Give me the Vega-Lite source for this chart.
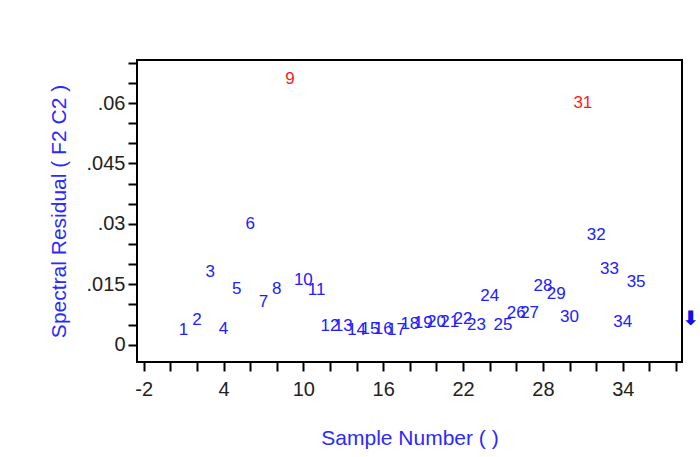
{
  "$schema": "https://vega.github.io/schema/vega-lite/v6.json",
  "width": 545,
  "height": 302,
  "autosize": "none",
  "padding": {"left": 137, "top": 60, "right": 18, "bottom": 95},
  "background": "white",
  "config": {
    "view": {"stroke": "black", "strokeWidth": 2},
    "axis": {
      "grid": false,
      "domain": false,
      "tickColor": "black",
      "tickWidth": 2,
      "tickSize": 9,
      "labelFont": "Liberation Sans",
      "labelFontSize": 20,
      "labelColor": "#222222",
      "titleFont": "Liberation Sans",
      "titleFontSize": 21,
      "titleFontWeight": "normal",
      "titleColor": "#2a2aff"
    }
  },
  "data": {
    "values": [
      {"sample": 1, "residual": 0.00356, "label": "1", "group": "normal"},
      {"sample": 2, "residual": 0.00622, "label": "2", "group": "normal"},
      {"sample": 3, "residual": 0.01805, "label": "3", "group": "normal"},
      {"sample": 4, "residual": 0.00398, "label": "4", "group": "normal"},
      {"sample": 5, "residual": 0.01392, "label": "5", "group": "normal"},
      {"sample": 6, "residual": 0.03008, "label": "6", "group": "normal"},
      {"sample": 7, "residual": 0.01059, "label": "7", "group": "normal"},
      {"sample": 8, "residual": 0.01392, "label": "8", "group": "normal"},
      {"sample": 9, "residual": 0.06589, "label": "9", "group": "outlier"},
      {"sample": 10, "residual": 0.01616, "label": "10", "group": "normal"},
      {"sample": 11, "residual": 0.0135, "label": "11", "group": "normal"},
      {"sample": 12, "residual": 0.00455, "label": "12", "group": "normal"},
      {"sample": 13, "residual": 0.00455, "label": "13", "group": "normal"},
      {"sample": 14, "residual": 0.00356, "label": "14", "group": "normal"},
      {"sample": 15, "residual": 0.00398, "label": "15", "group": "normal"},
      {"sample": 16, "residual": 0.00398, "label": "16", "group": "normal"},
      {"sample": 17, "residual": 0.00356, "label": "17", "group": "normal"},
      {"sample": 18, "residual": 0.00522, "label": "18", "group": "normal"},
      {"sample": 19, "residual": 0.00537, "label": "19", "group": "normal"},
      {"sample": 20, "residual": 0.00562, "label": "20", "group": "normal"},
      {"sample": 21, "residual": 0.00562, "label": "21", "group": "normal"},
      {"sample": 22, "residual": 0.00646, "label": "22", "group": "normal"},
      {"sample": 23, "residual": 0.0048, "label": "23", "group": "normal"},
      {"sample": 24, "residual": 0.012, "label": "24", "group": "normal"},
      {"sample": 25, "residual": 0.0048, "label": "25", "group": "normal"},
      {"sample": 26, "residual": 0.00786, "label": "26", "group": "normal"},
      {"sample": 27, "residual": 0.00786, "label": "27", "group": "normal"},
      {"sample": 28, "residual": 0.0145, "label": "28", "group": "normal"},
      {"sample": 29, "residual": 0.0125, "label": "29", "group": "normal"},
      {"sample": 30, "residual": 0.00686, "label": "30", "group": "normal"},
      {"sample": 31, "residual": 0.0601, "label": "31", "group": "outlier"},
      {"sample": 32, "residual": 0.0272, "label": "32", "group": "normal"},
      {"sample": 33, "residual": 0.0189, "label": "33", "group": "normal"},
      {"sample": 34, "residual": 0.00562, "label": "34", "group": "normal"},
      {"sample": 35, "residual": 0.01556, "label": "35", "group": "normal"},
      {"sample": 39.1, "residual": 0.0065, "label": "⬇", "group": "offscale"}
    ]
  },
  "encoding": {
    "x": {
      "field": "sample",
      "type": "quantitative",
      "scale": {"domain": [-2.5, 38.45], "nice": false, "zero": false},
      "axis": {
        "values": [-2, 0, 2, 4, 6, 8, 10, 12, 14, 16, 18, 20, 22, 24, 26, 28, 30, 32, 34, 36, 38],
        "labelExpr": "(datum.value + 2) % 6 == 0 ? ('' + datum.value) : ''",
        "labelPadding": 8,
        "title": "Sample Number ( )",
        "titlePadding": 28
      }
    },
    "y": {
      "field": "residual",
      "type": "quantitative",
      "scale": {"domain": [-0.0043, 0.0707], "nice": false, "zero": false},
      "axis": {
        "values": [0, 0.005, 0.01, 0.015, 0.02, 0.025, 0.03, 0.035, 0.04, 0.045, 0.05, 0.055, 0.06, 0.065, 0.07],
        "labelExpr": "round(datum.value * 1000) % 15 == 0 ? (datum.value == 0 ? '0' : slice(format(datum.value, '.3~f'), 1)) : ''",
        "labelPadding": 3,
        "title": "Spectral Residual ( F2 C2 )",
        "titlePadding": 17
      }
    },
    "text": {"field": "label"},
    "color": {
      "field": "group",
      "type": "nominal",
      "scale": {"domain": ["normal", "outlier", "offscale"], "range": ["#2020ff", "#ff1a1a", "#1010ee"]},
      "legend": null
    }
  },
  "layer": [
    {
      "transform": [{"filter": "datum.group != 'offscale'"}],
      "mark": {"type": "text", "font": "Liberation Sans", "fontSize": 17, "align": "center", "baseline": "middle", "clip": false}
    },
    {
      "transform": [{"filter": "datum.group == 'offscale'"}],
      "mark": {"type": "text", "font": "DejaVu Sans", "fontSize": 20, "fontWeight": "bold", "align": "center", "baseline": "middle", "clip": false}
    }
  ]
}
